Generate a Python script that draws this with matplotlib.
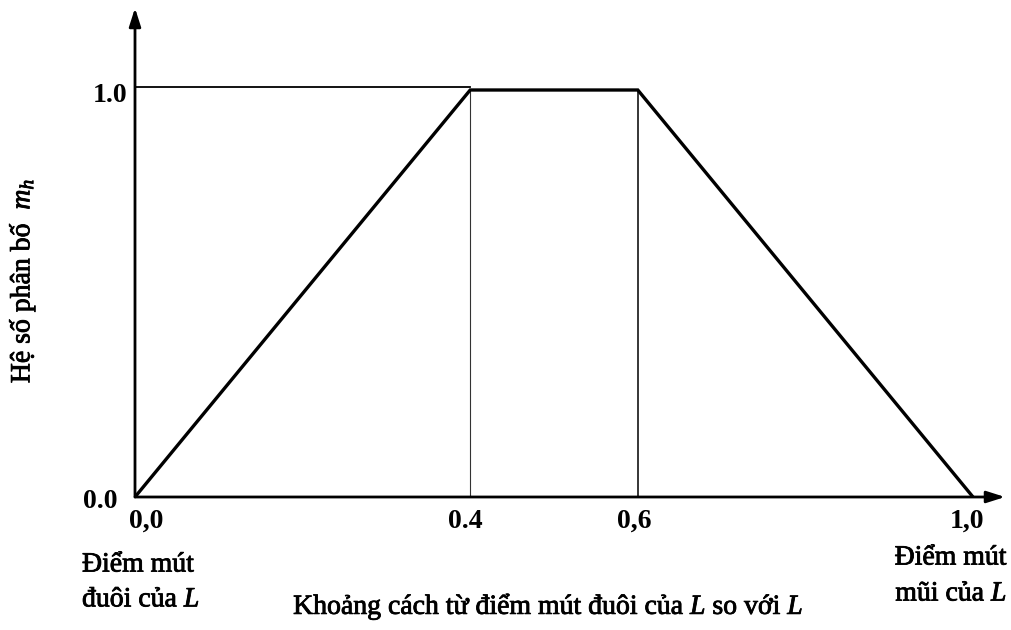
import matplotlib
matplotlib.use("Agg")
import matplotlib.pyplot as plt
import matplotlib.patheffects as pe

# Distribution coefficient m_h along the relative length
x_pos = [0.0, 0.4, 0.6, 1.0]
m_h = [0.0, 1.0, 1.0, 0.0]

x_tick_vals = [0.0, 0.4, 0.6, 1.0]
x_tick_text = ["0,0", "0.4", "0,6", "1,0"]
y_tick_vals = [0.0, 1.0]
y_tick_text = ["0.0", "1.0"]

plt.rcParams["font.family"] = ["Liberation Serif", "DejaVu Serif"]
plt.rcParams["mathtext.fontset"] = "custom"
plt.rcParams["mathtext.rm"] = "Liberation Serif"
plt.rcParams["mathtext.it"] = "Liberation Serif:italic"

W, H = 1012, 630
fig = plt.figure(figsize=(W / 100, H / 100), dpi=100)
ax = fig.add_axes([135 / W, 133 / H, 870 / W, 489 / H])
ax.set_xlim(0, 870 / 838)
ax.set_ylim(0, 489 / 407)
for s in ax.spines.values():
    s.set_visible(False)
ax.set_xticks([])
ax.set_yticks([])

# Axes with arrow heads
arrow = dict(arrowstyle="-|>,head_length=1.1,head_width=0.35", color="black",
             lw=2.0, shrinkA=0, shrinkB=0)
ax.annotate("", xy=(1, 0), xycoords="axes fraction", xytext=(0, 0),
            textcoords="axes fraction", arrowprops=arrow, annotation_clip=False)
ax.annotate("", xy=(0, 1), xycoords="axes fraction", xytext=(0, 0),
            textcoords="axes fraction", arrowprops=arrow, annotation_clip=False)

# Guide lines
ax.plot([0, x_pos[1]], [m_h[1] + 0.008, m_h[1] + 0.008], color="black", lw=1.3)
ax.plot([x_pos[1], x_pos[1]], [0, m_h[1]], color="#333333", lw=0.8)
ax.plot([x_pos[2], x_pos[2]], [0, m_h[2]], color="black", lw=1.1)

# Trapezoidal distribution
ax.plot(x_pos, m_h, color="black", lw=2.4, solid_joinstyle="miter")

fs = 20
heavy = [pe.withStroke(linewidth=0.6, foreground="black")]


def ptext(x, y, s, **kw):
    """Place text at pixel coordinates measured from the top-left corner."""
    kw.setdefault("fontsize", fs)
    kw.setdefault("path_effects", heavy)
    return fig.text(x / W, 1 - y / H, s, **kw)


def to_px(xv, yv):
    X, Y = ax.transData.transform((xv, yv))
    return X, H - Y


# Tick labels, placed from the data values
y_tick_dx = [17, 8]
y_tick_dy = [5, 5]
for v, t, dx, dy in zip(y_tick_vals, y_tick_text, y_tick_dx, y_tick_dy):
    px, py = to_px(0, v)
    ptext(px - dx, py + dy, t, ha="right", va="center", fontweight="bold",
          path_effects=[])

x_tick_dx = [11, -5, -4, -6]
for v, t, dx in zip(x_tick_vals, x_tick_text, x_tick_dx):
    px, py = to_px(v, 0)
    ptext(px + dx, py + 24, t, ha="center", va="center", fontweight="bold",
          path_effects=[])

ptext(82, 565, "Điểm mút", ha="left", va="center")
ptext(82, 600, "đuôi của $\\mathit{L}$", ha="left", va="center")
ptext(1007, 558, "Điểm mút", ha="right", va="center")
ptext(1007, 594, "mũi của $\\mathit{L}$", ha="right", va="center")

ptext(548, 607, "Khoảng cách từ điểm mút đuôi của $\\mathit{L}$ so với $\\mathit{L}$",
      ha="center", va="center")
ptext(22, 281, "Hệ số phân bố  $\\mathit{m}_{\\mathit{h}}$",
      ha="center", va="center", rotation=90)

fig.savefig("out.png", dpi=100, facecolor="white")
